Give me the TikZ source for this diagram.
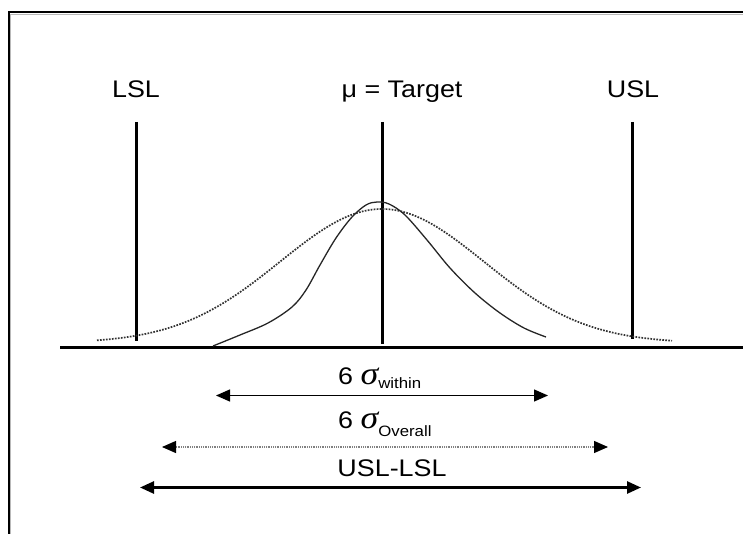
\documentclass[tikz,border=0pt]{standalone}
\usepackage{fontspec}
\setmainfont{Liberation Sans}
\newfontfamily\greekfont{Liberation Serif}
\usetikzlibrary{arrows.meta}
\begin{document}
\begin{tikzpicture}[x=1pt,y=-1pt,
  speclimit/.style={line width=3pt, line cap=butt},
  axisline/.style={line width=3pt},
  lbl/.style={inner sep=0pt, anchor=base, xscale=1.12, font=\fontsize{24}{28}\selectfont},
  siglbl/.style={inner sep=0pt, anchor=base west, xscale=1.12, font=\fontsize{24}{28}\selectfont},
  tip/.style={{Triangle[length=14pt,width=12pt,color=black]}-{Triangle[length=14pt,width=12pt,color=black]}},
  withinarrow/.style={tip, line width=1.3pt},
  overallarrow/.style={tip, line width=1.2pt, gray, dash pattern=on 1pt off 0.8pt},
  specarrow/.style={tip, line width=2.6pt},
  overallcurve/.style={line width=1.7pt, black!80, dash pattern=on 1.7pt off 1.3pt},
  withincurve/.style={line width=1.3pt, black!85, line join=round}]
\useasboundingbox (0,0) rectangle (743,534);

% frame
\draw[gray!55, line width=1pt] (10.8,534) -- (10.8,14.2) -- (743,14.2);
\draw[line width=1.6pt] (9,534) -- (9,12.2) -- (743,12.2);

% horizontal axis
\coordinate (ax0) at (60,347.5);
\coordinate (ax1) at (743,347.5);
\draw[axisline] (ax0) -- (ax1);

% specification limits and target
\node[lbl] (lsl) at (136,98) {LSL};
\node[lbl] (mu) at (402,98) {μ = Target};
\node[lbl] (usl) at (633,98) {USL};
\coordinate (lslT) at (136,122); \coordinate (lslB) at (136,341);
\coordinate (muT) at (382,122);  \coordinate (muB) at (382,344);
\coordinate (uslT) at (632,122); \coordinate (uslB) at (632,339);
\draw[speclimit] (lslT) -- (lslB);
\draw[speclimit] (muT) -- (muB);
\draw[speclimit] (uslT) -- (uslB);

% overall distribution (dotted)
\draw[overallcurve] plot[domain=97:672, samples=120]
  (\x, {343 - 134*exp(-0.5*((\x-382)/102)^2)});

% within distribution (solid)
\draw[withincurve] plot[smooth, tension=0.55] coordinates {
  (213,346) (240,335) (268,323) (292,307) (306,290) (320,265) (336,238)
  (352,217) (366,205) (377,202) (389,204) (405,215) (427,240) (450,268)
  (475,293) (500,313) (524,328) (546,337)};

% spread arrows
\node[siglbl] (lw) at (338,384) {6\ {\greekfont\itshape\fontsize{32}{34}\selectfont σ}{\fontsize{15}{18}\selectfont\raisebox{-4pt}{within}}};
\coordinate (w1) at (216,395.5); \coordinate (w2) at (548,395.5);
\draw[withinarrow] (w1) -- (w2);

\node[siglbl] (lo) at (338,428) {6\ {\greekfont\itshape\fontsize{32}{34}\selectfont σ}{\fontsize{15}{18}\selectfont\raisebox{-8pt}{Overall}}};
\coordinate (o1) at (162,447); \coordinate (o2) at (608,447);
\draw[overallarrow] (o1) -- (o2);

\node[lbl] (ls) at (392,476) {USL-LSL};
\coordinate (s1) at (140,487.5); \coordinate (s2) at (641,487.5);
\draw[specarrow] (s1) -- (s2);
\end{tikzpicture}
\end{document}
